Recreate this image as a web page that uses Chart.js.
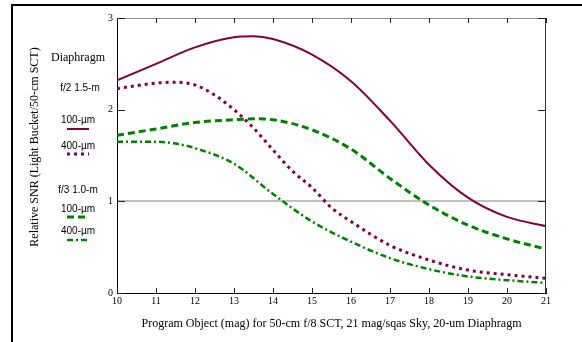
<!DOCTYPE html>
<html>
<head>
<meta charset="utf-8">
<script src="https://cdn.jsdelivr.net/npm/chart.js@4.4.1/dist/chart.umd.min.js"></script>
<style>
    body { margin: 0; background: #fff; }
    #wrap { position: relative; width: 582px; height: 342px; }
    #cadre { position: absolute; left: 11px; top: 4px; width: 600px; height: 400px; border-left: 2px solid #000; border-top: 2px solid #000; pointer-events: none; }
</style>
</head>
<body>
<div id="wrap">
    <canvas id="graphique" width="582" height="342"></canvas>
    <div id="cadre"></div>
</div>
<script>
// magnitudes du programme
const magSolide = [10, 11, 12, 13, 13.5, 14, 15, 16, 17, 18, 19, 20, 21];
const f2_100 = [2.32, 2.50, 2.68, 2.79, 2.80, 2.77, 2.60, 2.31, 1.88, 1.40, 1.04, 0.83, 0.73];

const magPoints = [10, 11, 11.5, 12, 12.5, 13, 13.5, 14, 14.5, 15, 15.5, 16, 17, 18, 19, 20, 21];
const f2_400 = [2.23, 2.29, 2.30, 2.27, 2.16, 2.00, 1.80, 1.56, 1.33, 1.15, 0.93, 0.78, 0.52, 0.36, 0.25, 0.20, 0.16];

const magTirets = [10, 11, 12, 13, 13.5, 14, 15, 16, 17, 18, 19, 20, 21];
const f3_100 = [1.72, 1.79, 1.86, 1.89, 1.90, 1.89, 1.78, 1.57, 1.25, 0.96, 0.74, 0.59, 0.48];

const magMixte = [10, 11, 11.5, 12, 13, 14, 15, 16, 17, 18, 19, 20, 21];
const f3_400 = [1.65, 1.65, 1.63, 1.58, 1.41, 1.08, 0.78, 0.56, 0.38, 0.26, 0.18, 0.14, 0.11];

const ticksX = [10, 11, 12, 13, 14, 15, 16, 17, 18, 19, 20, 21];
const ticksY = [0, 1, 2, 3];

const bordeaux = "#800040";
const vert = "#008000";

function points(xs, ys) {
    return xs.map((x, i) => ({ x: x, y: ys[i] }));
}

// graduations vers l'interieur + cadre du haut et de droite
const graduations = {
    id: "graduations",
    beforeDatasetsDraw(chart) {
        const { ctx, chartArea: a, scales } = chart;
        ctx.save();
        ctx.lineWidth = 1;
        ctx.strokeStyle = "#909090";
        ctx.beginPath();
        ctx.moveTo(a.left, a.top + 0.5);
        ctx.lineTo(a.right, a.top + 0.5);
        ctx.stroke();
        ctx.strokeStyle = "#333";
        ctx.beginPath();
        ctx.moveTo(a.right - 0.5, a.top);
        ctx.lineTo(a.right - 0.5, a.bottom);
        ctx.stroke();
        ctx.strokeStyle = "#222";
        ctx.beginPath();
        ticksX.forEach(v => {
            const px = Math.round(scales.x.getPixelForValue(v)) + 0.5;
            ctx.moveTo(px, a.bottom);
            ctx.lineTo(px, a.bottom - 5);
            ctx.moveTo(px, a.top);
            ctx.lineTo(px, a.top + 5);
        });
        ticksY.forEach(v => {
            const py = Math.round(scales.y.getPixelForValue(v)) + 0.5;
            ctx.moveTo(a.left, py);
            ctx.lineTo(a.left + 8, py);
            ctx.moveTo(a.right, py);
            ctx.lineTo(a.right - 8, py);
        });
        ctx.stroke();
        ctx.restore();
    },
    afterDraw(chart) {
        const ctx = chart.ctx;
        const ds = chart.data.datasets;
        const cx = 78;
        ctx.save();
        ctx.fillStyle = "#000";
        ctx.textAlign = "center";
        ctx.textBaseline = "middle";
        // titre de l'axe y
        ctx.save();
        ctx.translate(35, 147);
        ctx.rotate(-Math.PI / 2);
        ctx.font = "12px 'Liberation Serif'";
        ctx.fillText("Relative SNR (Light Bucket/50-cm SCT)", 0, 0);
        ctx.restore();
        ctx.font = "12px 'Liberation Serif'";
        ctx.fillText("Diaphragm", cx, 58);
        ctx.font = "10px 'Liberation Sans'";
        ctx.fillText("f/2 1.5-m", cx + 2, 88);
        ctx.fillText("f/3 1.0-m", cx, 190);
        const entrees = [[120, 129, ds[0]], [146, 154, ds[1]], [209, 217, ds[2]], [231, 240, ds[3]]];
        entrees.forEach(([ty, ly, d]) => {
            ctx.fillStyle = "#000";
            ctx.fillText(d.label, cx, ty);
            ctx.strokeStyle = d.borderColor;
            ctx.lineWidth = d.borderWidth;
            ctx.setLineDash(d.borderDash || []);
            ctx.beginPath();
            ctx.moveTo(cx - 11, ly);
            ctx.lineTo(cx + 11, ly);
            ctx.stroke();
        });
        ctx.restore();
    }
};

Chart.defaults.font.family = "'Liberation Serif'";
Chart.defaults.color = "#000";

new Chart(document.getElementById("graphique"), {
    type: "line",
    data: {
        datasets: [
            { label: "100-µm", data: points(magSolide, f2_100), borderColor: bordeaux, borderWidth: 2 },
            { label: "400-µm", data: points(magPoints, f2_400), borderColor: bordeaux, borderWidth: 3, borderDash: [3, 4] },
            { label: "100-µm", data: points(magTirets, f3_100), borderColor: vert, borderWidth: 3, borderDash: [7, 4] },
            { label: "400-µm", data: points(magMixte, f3_400), borderColor: vert, borderWidth: 2.5, borderDash: [6, 3, 2, 3] }
        ]
    },
    options: {
        responsive: false,
        animation: false,
        elements: { point: { radius: 0 }, line: { cubicInterpolationMode: "monotone" } },
        layout: { padding: { left: 0, top: 18, right: 36, bottom: 0 } },
        plugins: { legend: { display: false }, tooltip: { enabled: false } },
        scales: {
            x: {
                type: "linear",
                min: 10,
                max: 21,
                afterFit: s => { s.height = 49; },
                afterBuildTicks: s => { s.ticks = ticksX.map(v => ({ value: v })); },
                ticks: { font: { size: 10 }, padding: 2, maxRotation: 0 },
                grid: { display: false, drawTicks: false },
                border: { display: true, color: "#000", width: 1 },
                title: {
                    display: true,
                    text: "Program Object (mag) for 50-cm f/8 SCT, 21 mag/sqas Sky, 20-um Diaphragm",
                    font: { size: 12 },
                    padding: { top: 0, bottom: 11 }
                }
            },
            y: {
                min: 0,
                max: 3,
                afterFit: s => { s.width = 117; },
                afterBuildTicks: s => { s.ticks = ticksY.map(v => ({ value: v })); },
                ticks: { font: { size: 10 }, padding: 4 },
                grid: {
                    drawTicks: false,
                    lineWidth: 2,
                    color: c => (c.tick && c.tick.value === 1 ? "#c0c0c0" : "rgba(0,0,0,0)")
                },
                border: { display: true, color: "#000", width: 1 }
            }
        }
    },
    plugins: [graduations]
});
</script>
</body>
</html>
